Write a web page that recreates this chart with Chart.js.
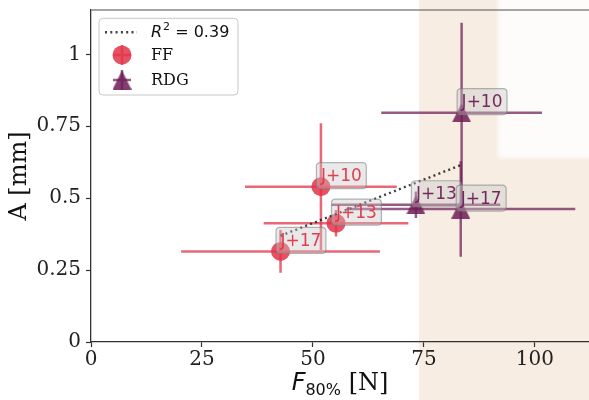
<!DOCTYPE html>
<html>
<head>
<meta charset="utf-8">
<script src="https://cdn.jsdelivr.net/npm/chart.js@4.4.0/dist/chart.umd.min.js"></script>
<style>
  html, body { margin: 0; padding: 0; background: #fff; }
  #wrap { width: 589px; height: 400px; position: relative; }
</style>
</head>
<body>
<div id="wrap"><canvas id="chart"></canvas></div>
<script>
// axes
const xTicks = [0, 25, 50, 75, 100];
const yTicks = [0, 0.25, 0.5, 0.75, 1];
const xRange = [0, 112.2];
const yRange = [0, 1.154];

// FF series
const ffLabels = ['J+10', 'J+13', 'J+17'];
const ffX = [51.8, 55.2, 42.7];
const ffY = [0.540, 0.413, 0.315];
const ffXErr = [17.1, 16.3, 22.4];
const ffYErr = [0.22, 0.046, 0.074];

// RDG series
const rdgLabels = ['J+10', 'J+13', 'J+17'];
const rdgX = [83.5, 73.2, 83.3];
const rdgY = [0.797, 0.477, 0.462];
const rdgXErr = [18.1, 19.0, 25.8];
const rdgYErr = [0.313, 0.046, 0.166];

// linear fit (end points) and its R2
const fitX = [42.7, 83.5];
const fitY = [0.369, 0.616];
const fitR2 = '0.39';

// shaded band on the right, pale block top right
const bandFromX = 73.9;
const paleFrom = [91.7, 0.64];

const RED = 'rgba(226, 52, 72, 0.85)';
const RED_BAR = 'rgba(226, 52, 72, 0.75)';
const PURPLE = 'rgba(110, 28, 85, 0.85)';
const PURPLE_BAR = 'rgba(110, 28, 85, 0.72)';

// matplotlib style '^' marker (same width and height)
function makeTriangle(size, color) {
    const c = document.createElement('canvas');
    c.width = size;
    c.height = size;
    const g = c.getContext('2d');
    g.fillStyle = color;
    g.beginPath();
    g.moveTo(size / 2, 0);
    g.lineTo(size, size);
    g.lineTo(0, size);
    g.closePath();
    g.fill();
    return c;
}
const triangle = makeTriangle(19, PURPLE);

function roundRect(ctx, x, y, w, h, r) {
    ctx.beginPath();
    ctx.moveTo(x + r, y);
    ctx.lineTo(x + w - r, y);
    ctx.quadraticCurveTo(x + w, y, x + w, y + r);
    ctx.lineTo(x + w, y + h - r);
    ctx.quadraticCurveTo(x + w, y + h, x + w - r, y + h);
    ctx.lineTo(x + r, y + h);
    ctx.quadraticCurveTo(x, y + h, x, y + h - r);
    ctx.lineTo(x, y + r);
    ctx.quadraticCurveTo(x, y, x + r, y);
    ctx.closePath();
}

const series = [
    { xs: ffX, ys: ffY, xe: ffXErr, ye: ffYErr, labels: ffLabels, bar: RED_BAR, text: 'rgba(226, 52, 72, 0.95)' },
    { xs: rdgX, ys: rdgY, xe: rdgXErr, ye: rdgYErr, labels: rdgLabels, bar: PURPLE_BAR, text: 'rgba(110, 28, 85, 0.95)' }
];

// background band
const bandPlugin = {
    id: 'band',
    beforeDraw(chart) {
        const { ctx, scales: { x, y } } = chart;
        ctx.save();
        const x0 = x.getPixelForValue(bandFromX);
        ctx.fillStyle = 'rgb(247, 237, 227)';
        ctx.fillRect(x0, 0, chart.width - x0, chart.height);
        const x1 = x.getPixelForValue(paleFrom[0]);
        const y1 = y.getPixelForValue(paleFrom[1]);
        ctx.filter = 'blur(2px)';
        ctx.fillStyle = 'rgba(253, 252, 251, 1)';
        ctx.fillRect(x1, -10, chart.width - x1 + 10, y1 + 10);
        ctx.restore();
    }
};

// error bars
const errorBarPlugin = {
    id: 'errorBars',
    beforeDatasetsDraw(chart) {
        const { ctx, scales: { x, y } } = chart;
        ctx.save();
        ctx.lineWidth = 2.5;
        series.forEach(s => {
            ctx.strokeStyle = s.bar;
            s.xs.forEach((v, i) => {
                const px = x.getPixelForValue(v);
                const py = y.getPixelForValue(s.ys[i]);
                ctx.beginPath();
                ctx.moveTo(x.getPixelForValue(v - s.xe[i]), py);
                ctx.lineTo(x.getPixelForValue(v + s.xe[i]), py);
                ctx.moveTo(px, y.getPixelForValue(s.ys[i] - s.ye[i]));
                ctx.lineTo(px, y.getPixelForValue(s.ys[i] + s.ye[i]));
                ctx.stroke();
            });
        });
        ctx.restore();
    }
};

// J+ tags next to each point
const tagPlugin = {
    id: 'tags',
    afterDatasetsDraw(chart) {
        const { ctx, scales: { x, y } } = chart;
        ctx.save();
        ctx.font = '17px "DejaVu Sans"';
        ctx.textBaseline = 'middle';
        series.forEach(s => {
            s.xs.forEach((v, i) => {
                const px = x.getPixelForValue(v);
                const py = y.getPixelForValue(s.ys[i]);
                const w = ctx.measureText(s.labels[i]).width;
                const bx = px - 4.5, by = py - 24, bw = w + 9, bh = 26;
                roundRect(ctx, bx, by, bw, bh, 4);
                ctx.fillStyle = 'rgba(200, 200, 200, 0.4)';
                ctx.fill();
                ctx.strokeStyle = 'rgba(120, 120, 120, 0.55)';
                ctx.lineWidth = 1.2;
                ctx.stroke();
                ctx.fillStyle = s.text;
                ctx.fillText(s.labels[i], px, by + bh / 2 + 1);
            });
        });
        ctx.restore();
    }
};

// top spine, x title, legend
const decorPlugin = {
    id: 'decor',
    afterDraw(chart) {
        const { ctx, chartArea: a } = chart;
        ctx.save();
        ctx.strokeStyle = 'rgb(135, 135, 135)';
        ctx.lineWidth = 1.5;
        ctx.beginPath();
        ctx.moveTo(a.left, a.top);
        ctx.lineTo(a.right, a.top);
        ctx.stroke();

        // x title: F_{80%} [N]
        ctx.fillStyle = '#111';
        ctx.textBaseline = 'alphabetic';
        const fMain = 'italic 24px "DejaVu Sans"';
        const fSub = '16px "DejaVu Sans"';
        const fRest = '24px "DejaVu Serif"';
        ctx.font = fMain; const w1 = ctx.measureText('F').width;
        ctx.font = fSub; const w2 = ctx.measureText('80%').width;
        ctx.font = fRest; const w3 = ctx.measureText(' [N]').width;
        let tx = (a.left + a.right) / 2 - (w1 + w2 + w3) / 2;
        const base = 390;
        ctx.font = fMain; ctx.fillText('F', tx, base); tx += w1;
        ctx.font = fSub; ctx.fillText('80%', tx, base + 5); tx += w2;
        ctx.font = fRest; ctx.fillText(' [N]', tx, base);

        // legend
        const lx = a.left + 8, ly = a.top + 8.3;
        roundRect(ctx, lx, ly, 139, 76.7, 4);
        ctx.fillStyle = 'rgba(255, 255, 255, 0.8)';
        ctx.fill();
        ctx.strokeStyle = 'rgba(200, 200, 200, 1)';
        ctx.lineWidth = 1;
        ctx.stroke();

        const hx = lx + 23, textX = lx + 52;
        const rows = [ly + 14, ly + 36.7, ly + 61.7];

        ctx.strokeStyle = 'rgba(30, 30, 30, 0.85)';
        ctx.lineWidth = 2.4;
        ctx.setLineDash([2, 3.3]);
        ctx.beginPath();
        ctx.moveTo(hx - 17, rows[0]);
        ctx.lineTo(hx + 15, rows[0]);
        ctx.stroke();
        ctx.setLineDash([]);

        ctx.fillStyle = RED;
        ctx.beginPath();
        ctx.arc(hx, rows[1], 9.5, 0, Math.PI * 2);
        ctx.fill();
        ctx.drawImage(triangle, hx - 9.5, rows[2] - 9.5);
        ctx.lineWidth = 2.5;
        [[RED_BAR, rows[1]], [PURPLE_BAR, rows[2]]].forEach(([c, ry]) => {
            ctx.strokeStyle = c;
            ctx.beginPath();
            ctx.moveTo(hx - 9, ry); ctx.lineTo(hx + 9, ry);
            ctx.moveTo(hx, ry - 10); ctx.lineTo(hx, ry + 10);
            ctx.stroke();
        });

        ctx.fillStyle = '#111';
        ctx.textBaseline = 'middle';
        let rx = textX;
        ctx.font = 'italic 16px "DejaVu Sans"';
        ctx.fillText('R', rx, rows[0] + 1); rx += ctx.measureText('R').width + 1;
        ctx.font = '11px "DejaVu Sans"';
        ctx.fillText('2', rx, rows[0] - 5); rx += ctx.measureText('2').width;
        ctx.font = '16px "DejaVu Sans"';
        ctx.fillText(' = ' + fitR2, rx, rows[0] + 1);
        ctx.font = '16px "DejaVu Serif"';
        ctx.fillText('FF', textX, rows[1] + 1);
        ctx.fillText('RDG', textX, rows[2] + 1);
        ctx.restore();
    }
};

new Chart(document.getElementById('chart'), {
    type: 'scatter',
    data: {
        datasets: [
            {
                label: 'R² = ' + fitR2,
                data: fitX.map((v, i) => ({ x: v, y: fitY[i] })),
                showLine: true,
                borderColor: 'rgba(30, 30, 30, 0.85)',
                borderWidth: 2.4,
                borderDash: [2, 3.3],
                pointRadius: 0,
                order: 0
            },
            {
                label: 'RDG',
                data: rdgX.map((v, i) => ({ x: v, y: rdgY[i] })),
                pointStyle: triangle,
                pointRadius: 9.5,
                backgroundColor: PURPLE,
                borderWidth: 0,
                order: 1
            },
            {
                label: 'FF',
                data: ffX.map((v, i) => ({ x: v, y: ffY[i] })),
                pointStyle: 'circle',
                pointRadius: 9.5,
                backgroundColor: RED,
                borderWidth: 0,
                order: 2
            }
        ]
    },
    options: {
        responsive: true,
        maintainAspectRatio: false,
        animation: false,
        layout: { autoPadding: false, padding: { top: 10, right: 0, left: 0, bottom: 0 } },
        plugins: {
            legend: { display: false },
            tooltip: { enabled: false }
        },
        scales: {
            x: {
                type: 'linear',
                min: xRange[0],
                max: xRange[1],
                afterBuildTicks: s => { s.ticks = xTicks.map(v => ({ value: v })); },
                afterFit: s => { s.height = 58; s.paddingLeft = 0; s.paddingRight = 0; },
                grid: { drawOnChartArea: false, drawTicks: true, tickLength: 5, tickColor: '#333', tickWidth: 1.2 },
                border: { display: true, color: '#333', width: 1.3 },
                ticks: {
                    font: { family: 'DejaVu Serif', size: 20 },
                    color: '#222',
                    padding: 1,
                    maxRotation: 0,
                    autoSkip: false
                }
            },
            y: {
                type: 'linear',
                min: yRange[0],
                max: yRange[1],
                afterBuildTicks: s => { s.ticks = yTicks.map(v => ({ value: v })); },
                afterFit: s => { s.width = 91; s.paddingTop = 0; s.paddingBottom = 0; },
                grid: { drawOnChartArea: false, drawTicks: true, tickLength: 5, tickColor: '#333', tickWidth: 1.2 },
                border: { display: true, color: '#333', width: 1.3 },
                ticks: {
                    font: { family: 'DejaVu Serif', size: 20 },
                    color: '#222',
                    padding: 5,
                    autoSkip: false,
                    callback: v => String(v)
                },
                title: {
                    display: true,
                    text: 'A [mm]',
                    font: { family: 'DejaVu Serif', size: 24 },
                    color: '#111',
                    padding: { top: 5, bottom: 0 }
                }
            }
        }
    },
    plugins: [bandPlugin, errorBarPlugin, tagPlugin, decorPlugin]
});
</script>
</body>
</html>
